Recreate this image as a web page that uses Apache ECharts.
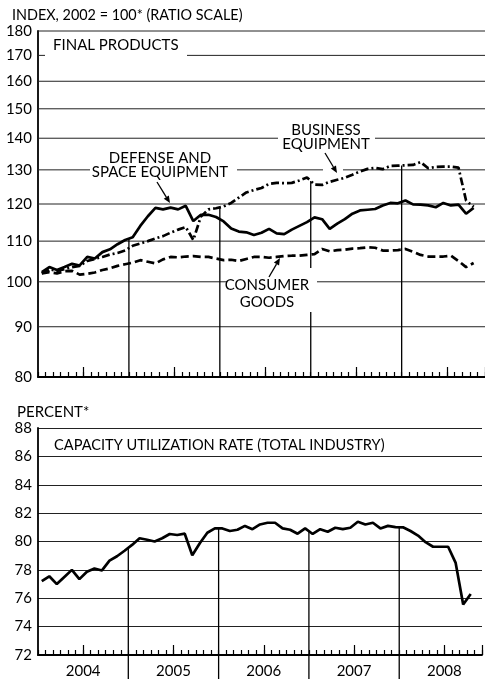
<!DOCTYPE html>
<html><head><meta charset="utf-8">
<script src="https://cdn.jsdelivr.net/npm/echarts@6/dist/echarts.min.js"></script>
<style>html,body{margin:0;padding:0;background:#fff}#c{width:485px;height:679px}</style>
</head><body><div id="c"></div>
<script>
// ---- data (monthly, Jan 2004 .. Oct 2008) ----
const monthNames = ['Jan','Feb','Mar','Apr','May','Jun','Jul','Aug','Sep','Oct','Nov','Dec'];
const yearLabels = ['2004','2005','2006','2007','2008'];
const months = [];
yearLabels.forEach(y => monthNames.forEach(m => months.push(m + ' ' + y)));
const axisMonths = months.slice(0, 59);

const defense = [102.3,103.5,102.8,103.5,104.3,103.9,106.0,105.6,107.2,107.9,
  109.2,110.3,111.0,114.0,116.6,118.9,118.5,119.0,118.5,119.5,
  115.3,117.0,117.0,116.4,115.2,113.3,112.5,112.3,111.6,112.2,
  113.2,112.0,111.8,113.0,114.0,115.0,116.3,115.8,113.2,114.6,
  115.8,117.3,118.2,118.4,118.6,119.6,120.3,120.2,121.0,119.9,
  119.8,119.6,119.1,120.3,119.6,119.8,117.3,118.9];
const business = [102.0,103.0,102.6,103.0,103.5,103.8,105.0,105.5,106.0,106.6,
  107.0,107.6,108.8,109.4,110.0,110.7,111.3,112.2,113.0,113.7,
  110.3,116.5,118.5,118.8,119.3,120.3,121.8,123.3,124.0,124.6,
  125.8,126.1,126.0,126.1,126.8,127.7,125.6,125.5,126.4,127.0,
  127.6,128.5,129.5,130.3,130.6,130.2,131.2,131.3,131.4,131.5,
  132.4,130.5,130.9,131.0,131.0,130.7,121.0,119.2];
const consumer = [102.0,102.3,102.0,102.5,102.6,101.7,101.9,102.2,102.8,103.2,
  103.8,104.2,104.6,105.2,104.8,104.4,105.4,106.0,105.9,106.1,
  106.2,106.0,106.0,105.6,105.2,105.3,105.0,105.5,106.0,106.0,
  105.8,106.0,106.2,106.3,106.3,106.5,106.7,108.0,107.4,107.7,
  107.8,108.1,108.2,108.4,108.3,107.6,107.6,107.7,108.0,107.3,
  106.5,106.1,106.1,106.1,106.3,105.0,103.5,104.5];
const capacity = [77.2,77.55,77.0,77.5,78.0,77.35,77.87,78.1,77.96,78.65,
  78.96,79.35,79.76,80.23,80.12,80.0,80.23,80.53,80.46,80.55,
  79.03,79.88,80.62,80.92,80.92,80.74,80.83,81.1,80.87,81.2,
  81.32,81.32,80.92,80.83,80.55,80.92,80.53,80.87,80.69,80.97,
  80.87,80.97,81.39,81.2,81.32,80.92,81.1,81.01,81.0,80.74,
  80.42,79.95,79.63,79.63,79.63,78.49,75.56,76.3];

const indexTicks = [80,90,100,110,120,130,140,150,160,170,180];
const percentMin = 72, percentMax = 88, percentStep = 2;
const yearBoundaries = [12,24,36,48];

// ---- helpers ----
const INK = '#000';
const FONT = 'Lato';
const pts = arr => arr.map((v, i) => [i + 0.5, v]);
const atBoundary = (arr, b) => (arr[b - 1] + arr[b]) / 2;
const topYearLines = yearBoundaries.map(b => [b, Math.max(atBoundary(defense,b), atBoundary(business,b), atBoundary(consumer,b))]);
const botYearLines = yearBoundaries.map(b => [b, atBoundary(capacity, b)]);

function arrow(x1, y1, x2, y2) {
  const a = Math.atan2(y2 - y1, x2 - x1), L = 7, W = 3;
  const bx = x2 - L * Math.cos(a), by = y2 - L * Math.sin(a);
  const px = -Math.sin(a) * W, py = Math.cos(a) * W;
  return [
    {type:'line', z:4, shape:{x1:x1, y1:y1, x2:bx, y2:by}, style:{stroke:INK, lineWidth:1.3}},
    {type:'polygon', z:4, shape:{points:[[x2,y2],[bx+px,by+py],[bx-px,by-py]]}, style:{fill:INK}}
  ];
}
const whiteRect = (x, y, w, h) => ({type:'rect', z:3, shape:{x:x, y:y, width:w, height:h}, style:{fill:'#fff'}});
const txt = (s, x, y, align, size) => ({type:'text', z:4, x:x, y:y, style:{text:s, font:(size || 15) + 'px ' + FONT, fill:INK, align:align || 'left', verticalAlign:'middle'}});

function tickAxes(grid) {
  const base = {type:'category', gridIndex:grid, data:axisMonths, boundaryGap:true, position:'bottom',
    axisLine:{show:false}, axisLabel:{show:false}, splitLine:{show:false}};
  return [
    Object.assign({}, base, {axisTick:{show:true, inside:true, length:5, interval:0, lineStyle:{color:INK, width:1.2}}}),
    Object.assign({}, base, {axisTick:{show:true, inside:true, length:10, interval:(i) => i % 12 === 6, lineStyle:{color:INK, width:1.2}}})
  ];
}

const chart = echarts.init(document.getElementById('c'), null, {renderer:'canvas'});
const option = {
  animation:false,
  backgroundColor:'#fff',
  grid:[
    {left:38, top:31, width:447, height:346},
    {left:38, top:428, width:447, height:229}
  ],
  xAxis:[
    {type:'value', gridIndex:0, min:0, max:59, interval:6, position:'bottom',
      axisLine:{show:true, lineStyle:{color:INK, width:1.8}}, axisTick:{show:false}, axisLabel:{show:false}, splitLine:{show:false}},
    ...tickAxes(0),
    {type:'value', gridIndex:1, min:0, max:59, interval:6, position:'bottom',
      axisLine:{show:true, lineStyle:{color:INK, width:1.8}}, axisTick:{show:false}, splitLine:{show:false},
      axisLabel:{show:true, margin:9, fontFamily:FONT, fontSize:15, color:INK,
        formatter:(v) => (v % 12 === 6 ? yearLabels[(v - 6) / 12] : '')}},
    ...tickAxes(1)
  ],
  yAxis:[
    {type:'log', logBase:10, gridIndex:0, min:80, max:180,
      axisLine:{show:true, lineStyle:{color:INK, width:1.8}}, axisTick:{show:false}, axisLabel:{show:false}, splitLine:{show:false}},
    {type:'value', gridIndex:1, min:percentMin, max:percentMax, interval:percentStep,
      axisLine:{show:true, lineStyle:{color:INK, width:1.8}}, axisTick:{show:false},
      axisLabel:{margin:6, fontFamily:FONT, fontSize:15, color:INK},
      splitLine:{show:true, lineStyle:{color:'#222', width:1}}}
  ],
  series:[
    {type:'custom', xAxisIndex:0, yAxisIndex:0, z:1, clip:false, silent:true,
      data:indexTicks.map(v => [0, v]),
      renderItem:(params, api) => {
        const v = api.value(1);
        const p0 = api.coord([0, v]), p1 = api.coord([59, v]);
        const children = [{type:'text', x:p0[0] - 6, y:p0[1], style:{text:String(v), font:'15px ' + FONT, fill:INK, align:'right', verticalAlign:'middle'}}];
        if (v !== indexTicks[0]) children.push({type:'line', shape:{x1:p0[0], y1:p0[1], x2:p1[0], y2:p1[1]}, style:{stroke:'#222', lineWidth:1}});
        return {type:'group', children:children};
      }},
    {type:'custom', xAxisIndex:0, yAxisIndex:0, z:2, clip:false, silent:true,
      data:topYearLines,
      renderItem:(params, api) => {
        const x = api.value(0), t = api.value(1);
        const a = api.coord([x, indexTicks[0]]), b = api.coord([x, t]);
        return {type:'line', shape:{x1:a[0], y1:a[1], x2:b[0], y2:b[1]}, style:{stroke:INK, lineWidth:1.3}};
      }},
    {type:'custom', xAxisIndex:3, yAxisIndex:1, z:2, clip:false, silent:true,
      data:botYearLines,
      renderItem:(params, api) => {
        const x = api.value(0), t = api.value(1);
        const a = api.coord([x, percentMin]), b = api.coord([x, t]);
        return {type:'line', shape:{x1:a[0], y1:a[1] + 24, x2:b[0], y2:b[1]}, style:{stroke:INK, lineWidth:1.3}};
      }},
    {name:'Consumer goods', type:'line', xAxisIndex:0, yAxisIndex:0, z:10, showSymbol:false, data:pts(consumer),
      lineStyle:{color:INK, width:2.7, type:[8,4]}},
    {name:'Business equipment', type:'line', xAxisIndex:0, yAxisIndex:0, z:10, showSymbol:false, data:pts(business),
      lineStyle:{color:INK, width:2.7, type:[8,3,2,3]}},
    {name:'Defense and space equipment', type:'line', xAxisIndex:0, yAxisIndex:0, z:10, showSymbol:false, data:pts(defense),
      lineStyle:{color:INK, width:2.7}},
    {name:'Capacity utilization', type:'line', xAxisIndex:3, yAxisIndex:1, z:10, showSymbol:false, data:pts(capacity),
      lineStyle:{color:INK, width:2.7}}
  ],
  graphic:[
    whiteRect(45, 40, 142, 20),
    whiteRect(90, 150, 147, 29),
    whiteRect(278, 121, 97, 31),
    whiteRect(323, 165, 20, 7),
    whiteRect(162, 198, 17, 5),
    whiteRect(227, 268, 90, 44),
    txt('INDEX, 2002 = 100* (RATIO SCALE)', 12, 15, 'left', 14.4),
    txt('FINAL PRODUCTS', 53, 45),
    txt('DEFENSE AND', 160, 158, 'center'),
    txt('SPACE EQUIPMENT', 160, 172, 'center'),
    txt('BUSINESS', 326, 130, 'center'),
    txt('EQUIPMENT', 326, 144, 'center'),
    txt('CONSUMER', 267, 285, 'center'),
    txt('GOODS', 267, 302, 'center'),
    txt('PERCENT*', 17, 412),
    txt('CAPACITY UTILIZATION RATE (TOTAL INDUSTRY)', 54, 445, 'left', 14.6),
    ...arrow(157, 182, 170, 203),
    ...arrow(325, 153, 337, 173),
    ...arrow(269, 277, 280, 258)
  ]
};
chart.setOption(option);
</script>
</body></html>
